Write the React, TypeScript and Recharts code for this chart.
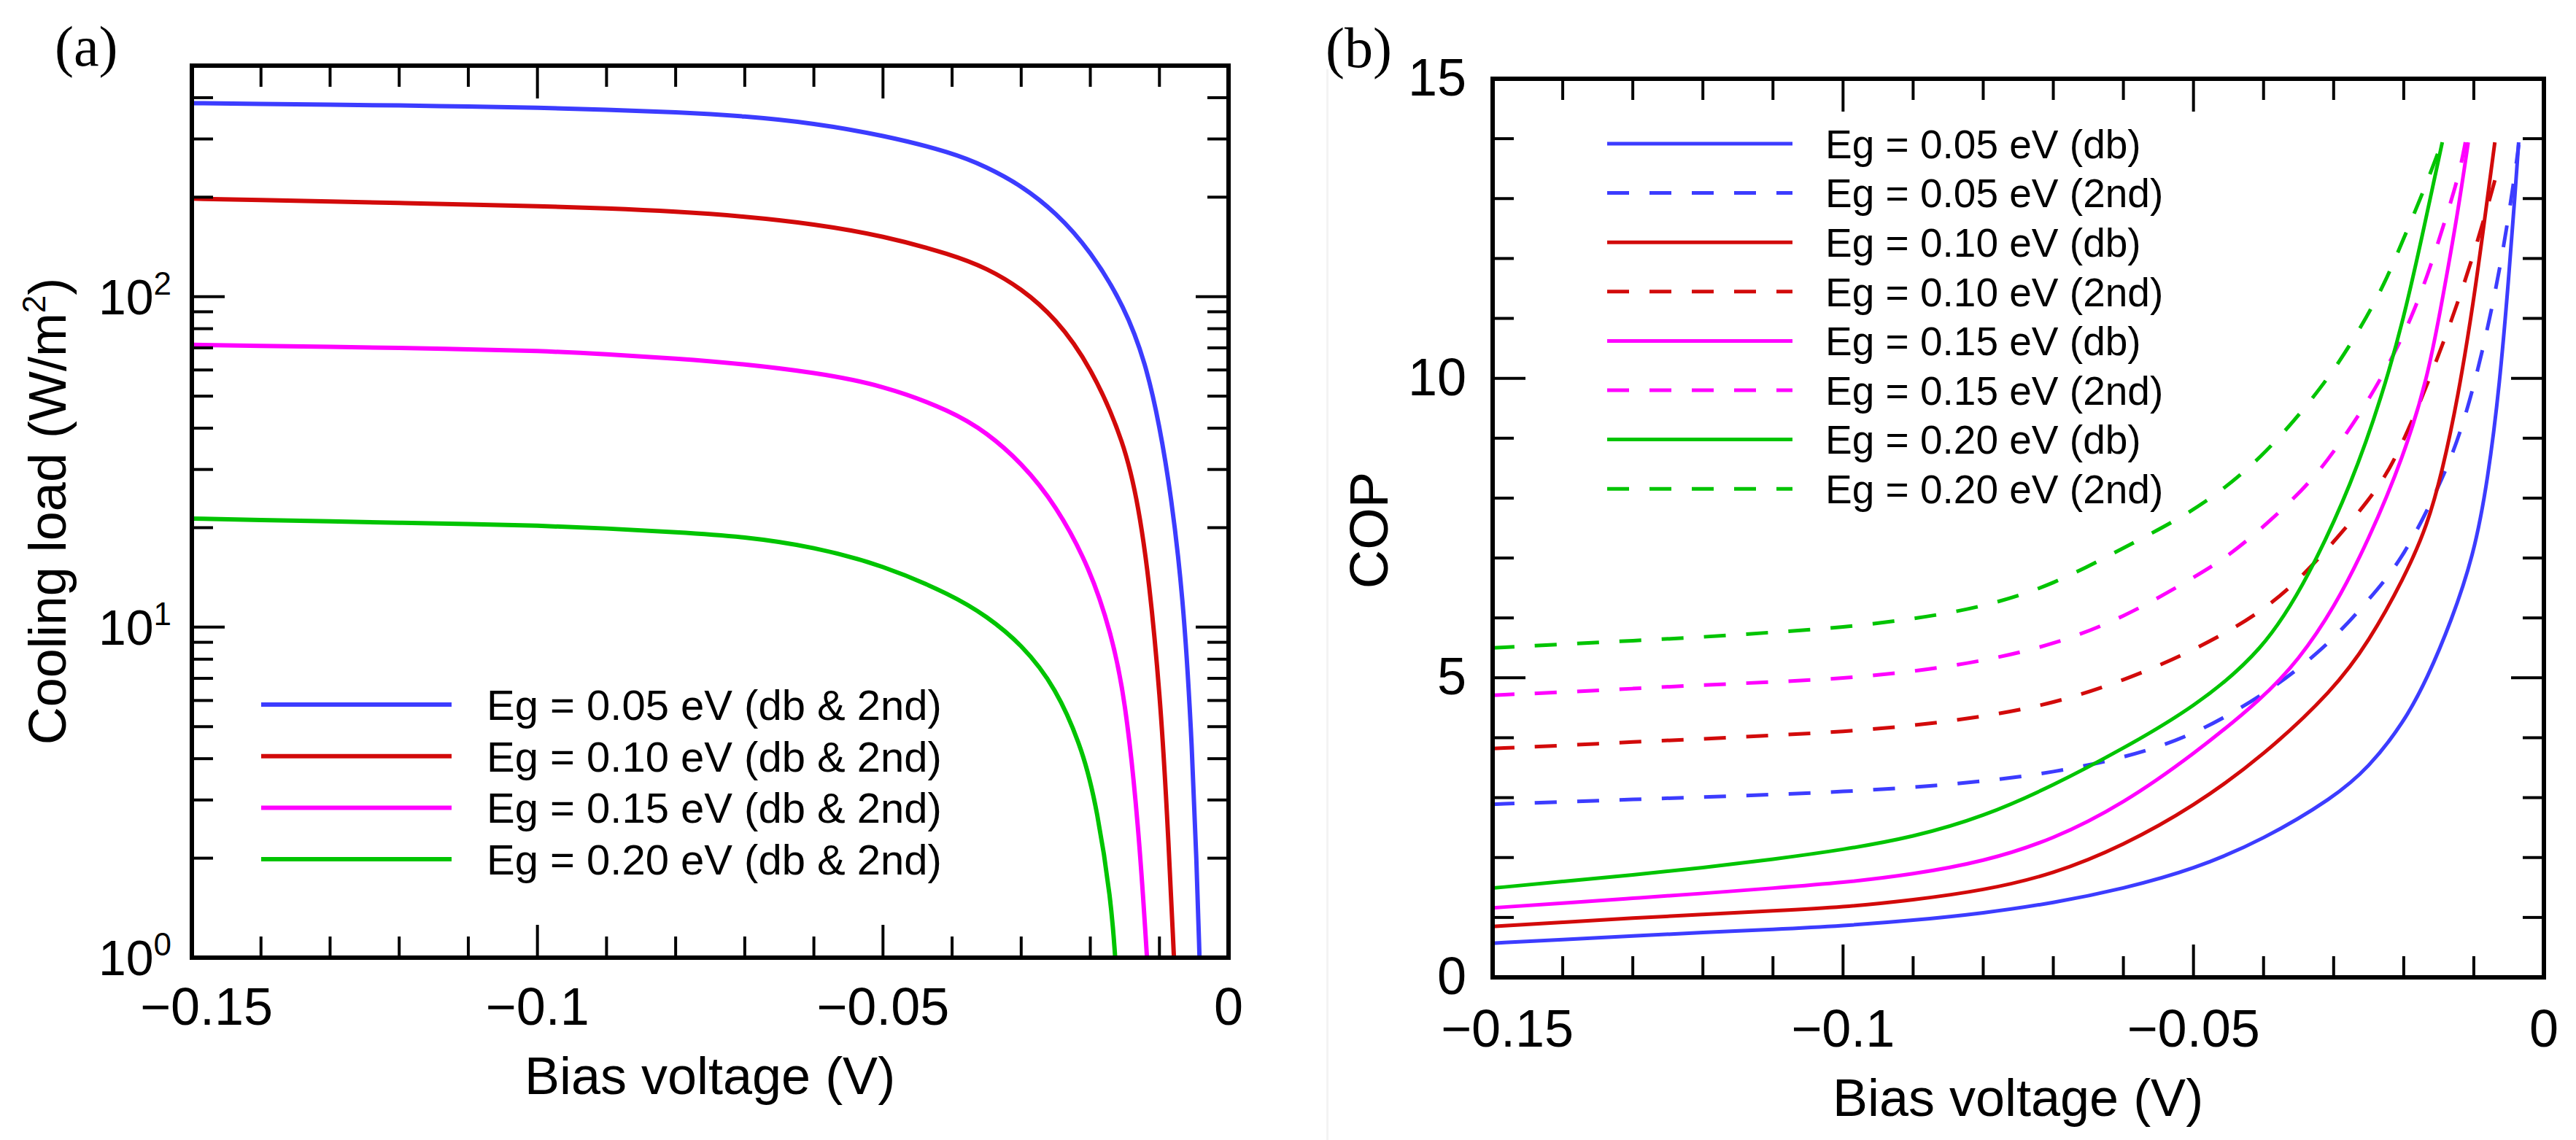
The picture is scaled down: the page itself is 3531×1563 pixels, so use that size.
import React from 'react';
import { LineChart, Line, XAxis, YAxis, Legend, Label } from 'recharts';

const SANS = '"Liberation Sans", Arial, Helvetica, sans-serif';
const SERIF = '"Liberation Serif", "Times New Roman", serif';

const BLUE = '#3c3cff';
const RED = '#d20a0a';
const MAGENTA = '#ff00ff';
const GREEN = '#00c400';

// bias voltage axis (both panels)
const biasTicks = [-0.15, -0.14, -0.13, -0.12, -0.11, -0.1, -0.09, -0.08, -0.07, -0.06, -0.05, -0.04, -0.03, -0.02, -0.01, 0];
const biasMajor = [-0.15, -0.1, -0.05, 0];
const biasLabels = ['\u22120.15', '\u22120.1', '\u22120.05', '0'];

// (a) cooling load axis, log
const loadTicks = [1, 2, 3, 4, 5, 6, 7, 8, 9, 10, 20, 30, 40, 50, 60, 70, 80, 90, 100, 200, 300, 400];
const loadMajor = [1, 10, 100];
const loadExp = ['0', '1', '2'];

// (b) COP axis
const copTicks = [0, 1, 2, 3, 4, 5, 6, 7, 8, 9, 10, 11, 12, 13, 14, 15];
const copMajor = [0, 5, 10, 15];
const copLabels = ['0', '5', '10', '15'];

// (a) cooling load, W/m2 (db and 2nd coincide)
const loadV05 = [-0.15, -0.14, -0.13, -0.12, -0.11, -0.1, -0.09, -0.08, -0.07, -0.06, -0.05, -0.04, -0.035, -0.03, -0.025, -0.02, -0.015, -0.012, -0.01, -0.0083, -0.0066, -0.0054, -0.0046, -0.0042];
const load05 = [385, 383, 381, 379, 376, 373, 368, 362, 352, 335, 308, 273, 247, 217, 180, 138, 93, 63, 41, 25, 12.5, 5, 1.9, 1];
const loadV10 = [-0.15, -0.14, -0.13, -0.12, -0.11, -0.1, -0.09, -0.08, -0.07, -0.06, -0.05, -0.04, -0.035, -0.03, -0.025, -0.02, -0.015, -0.013, -0.0115, -0.0099, -0.0089, -0.0079];
const load10 = [198, 196, 194, 192, 190, 188, 185, 181, 175, 166, 153, 134, 122, 106, 86, 62, 36, 23, 14, 6.2, 2.8, 1];
const loadV15 = [-0.15, -0.14, -0.13, -0.12, -0.11, -0.1, -0.09, -0.08, -0.07, -0.06, -0.05, -0.04, -0.035, -0.03, -0.025, -0.02, -0.017, -0.015, -0.013, -0.0118];
const load15 = [71.5, 71, 70.5, 70, 69.3, 68.6, 67, 65, 62.5, 59, 54, 45, 38.8, 31.5, 23.5, 15, 9.6, 6.2, 2.5, 1];
const loadV20 = [-0.15, -0.14, -0.13, -0.12, -0.11, -0.1, -0.09, -0.08, -0.07, -0.06, -0.05, -0.04, -0.035, -0.03, -0.025, -0.021, -0.019, -0.017, -0.0164];
const load20 = [21.3, 21.1, 20.9, 20.7, 20.5, 20.3, 19.9, 19.4, 18.8, 17.5, 15.4, 12.5, 10.8, 8.9, 6.6, 4.2, 2.8, 1.5, 1];

// (b) COP
const copV05db = [-0.15, -0.14, -0.13, -0.12, -0.11, -0.1, -0.09, -0.08, -0.07, -0.06, -0.05, -0.04, -0.03, -0.025, -0.02, -0.0166, -0.0132, -0.01, -0.008, -0.0063, -0.005, -0.0041, -0.0036];
const cop05db = [0.57, 0.63, 0.69, 0.75, 0.8, 0.86, 0.95, 1.07, 1.24, 1.48, 1.8, 2.3, 3.0, 3.5, 4.25, 5.0, 5.95, 7.05, 8.3, 9.9, 11.7, 13.1, 13.94];
const copV05nd = [-0.15, -0.14, -0.13, -0.12, -0.11, -0.1, -0.09, -0.08, -0.07, -0.06, -0.05, -0.04, -0.035, -0.03, -0.025, -0.02, -0.0145, -0.0115, -0.0084, -0.0058, -0.0039, -0.0036];
const cop05nd = [2.89, 2.93, 2.97, 3.01, 3.05, 3.1, 3.17, 3.27, 3.42, 3.66, 4.03, 4.72, 5.15, 5.65, 6.3, 7.0, 8.3, 9.2, 10.6, 12.1, 13.6, 13.9];
const copV10db = [-0.15, -0.14, -0.13, -0.12, -0.11, -0.1, -0.09, -0.08, -0.07, -0.06, -0.05, -0.04, -0.03, -0.025, -0.02, -0.0166, -0.0145, -0.0123, -0.01, -0.0084, -0.007];
const cop10db = [0.85, 0.92, 0.99, 1.05, 1.11, 1.17, 1.29, 1.45, 1.72, 2.2, 2.85, 3.7, 4.8, 5.6, 6.65, 7.55, 8.45, 9.65, 11.3, 12.7, 13.94];
const copV10nd = [-0.15, -0.14, -0.13, -0.12, -0.11, -0.1, -0.09, -0.08, -0.07, -0.06, -0.05, -0.04, -0.033, -0.0244, -0.021, -0.0158, -0.011, -0.0074, -0.0068];
const cop10nd = [3.82, 3.87, 3.93, 3.98, 4.04, 4.1, 4.2, 4.35, 4.57, 4.95, 5.45, 6.1, 6.85, 8.03, 8.67, 10.12, 11.67, 13.12, 13.4];
const copV15db = [-0.15, -0.14, -0.13, -0.12, -0.11, -0.1, -0.09, -0.08, -0.07, -0.06, -0.05, -0.04, -0.035, -0.03, -0.025, -0.02, -0.0166, -0.0145, -0.0123, -0.0108];
const cop15db = [1.16, 1.24, 1.32, 1.4, 1.49, 1.58, 1.72, 1.93, 2.3, 2.9, 3.72, 4.67, 5.3, 6.15, 7.3, 8.7, 10.0, 11.3, 12.75, 13.94];
const copV15nd = [-0.15, -0.14, -0.13, -0.12, -0.11, -0.1, -0.09, -0.08, -0.07, -0.06, -0.05, -0.045, -0.039, -0.033, -0.0292, -0.0253, -0.0218, -0.0188, -0.0162, -0.014, -0.0121, -0.0112];
const cop15nd = [4.71, 4.76, 4.82, 4.88, 4.93, 4.99, 5.1, 5.28, 5.55, 6.0, 6.67, 7.03, 7.62, 8.3, 8.9, 9.58, 10.3, 11.03, 11.85, 12.67, 13.4, 13.94];
const copV20db = [-0.15, -0.14, -0.13, -0.12, -0.11, -0.1, -0.09, -0.08, -0.07, -0.06, -0.05, -0.04, -0.0335, -0.0274, -0.0231, -0.02, -0.0175, -0.0145];
const cop20db = [1.49, 1.6, 1.71, 1.83, 1.97, 2.13, 2.34, 2.68, 3.2, 3.82, 4.5, 5.45, 6.7, 8.25, 9.7, 11.0, 12.3, 13.94];
const copV20nd = [-0.15, -0.14, -0.13, -0.12, -0.11, -0.1, -0.09, -0.08, -0.07, -0.06, -0.0525, -0.0464, -0.0404, -0.0348, -0.03, -0.0261, -0.0227, -0.0201, -0.0175, -0.0151, -0.0146];
const cop20nd = [5.5, 5.56, 5.62, 5.68, 5.76, 5.84, 5.98, 6.18, 6.55, 7.17, 7.62, 8.08, 8.67, 9.4, 10.12, 10.85, 11.58, 12.31, 13.03, 13.76, 13.94];

const pts = (xs: number[], ys: number[]) => xs.map((v, i) => ({ v, y: ys[i] }));

type Series = { name: string; color: string; dash?: string; data: { v: number; y: number }[] };

const DASH = '30 28';

const loadSeries: Series[] = [
  { name: 'Eg = 0.05 eV (db & 2nd)', color: BLUE, data: pts(loadV05, load05) },
  { name: 'Eg = 0.10 eV (db & 2nd)', color: RED, data: pts(loadV10, load10) },
  { name: 'Eg = 0.15 eV (db & 2nd)', color: MAGENTA, data: pts(loadV15, load15) },
  { name: 'Eg = 0.20 eV (db & 2nd)', color: GREEN, data: pts(loadV20, load20) },
];

const copSeries: Series[] = [
  { name: 'Eg = 0.05 eV (db)', color: BLUE, data: pts(copV05db, cop05db) },
  { name: 'Eg = 0.05 eV (2nd)', color: BLUE, dash: DASH, data: pts(copV05nd, cop05nd) },
  { name: 'Eg = 0.10 eV (db)', color: RED, data: pts(copV10db, cop10db) },
  { name: 'Eg = 0.10 eV (2nd)', color: RED, dash: DASH, data: pts(copV10nd, cop10nd) },
  { name: 'Eg = 0.15 eV (db)', color: MAGENTA, data: pts(copV15db, cop15db) },
  { name: 'Eg = 0.15 eV (2nd)', color: MAGENTA, dash: DASH, data: pts(copV15nd, cop15nd) },
  { name: 'Eg = 0.20 eV (db)', color: GREEN, data: pts(copV20db, cop20db) },
  { name: 'Eg = 0.20 eV (2nd)', color: GREEN, dash: DASH, data: pts(copV20nd, cop20nd) },
];

type Side = 'bottom' | 'top' | 'left' | 'right';

// inward tick marks, longer for majors; labels only on the outer axes
const makeTick =
  (side: Side, majors: number[], label?: (i: number, x: number, y: number) => React.ReactNode) =>
  (props: any) => {
    const { x, y, payload } = props;
    const i = majors.findIndex((m) => Math.abs(m - payload.value) < 1e-9);
    const len = i >= 0 ? 45 : 29;
    const dx = side === 'left' ? len : side === 'right' ? -len : 0;
    const dy = side === 'bottom' ? -len : side === 'top' ? len : 0;
    return (
      <g>
        <line x1={x} y1={y} x2={x + dx} y2={y + dy} stroke="#000" strokeWidth={4} />
        {i >= 0 && label ? label(i, x, y) : null}
      </g>
    );
  };

// first label sits a little to the right, as in the original figure
const biasLabel = (drop: number) => (i: number, x: number, y: number) => (
  <text x={x + (i === 0 ? 20 : 0)} y={y + drop} textAnchor="middle" fontFamily={SANS} fontSize={72} fill="#000">
    {biasLabels[i]}
  </text>
);

const loadLabel = (i: number, x: number, y: number) => (
  <text x={x - 28} y={y + 24} textAnchor="end" fontFamily={SANS} fontSize={68} fill="#000">
    10
    <tspan dy={-27} fontSize={44}>
      {loadExp[i]}
    </tspan>
  </text>
);

const copLabel = (i: number, x: number, y: number) => (
  <text x={x - 36} y={y + 23} textAnchor="end" fontFamily={SANS} fontSize={72} fill="#000">
    {copLabels[i]}
  </text>
);

const axisLine = { stroke: '#000', strokeWidth: 6, strokeLinecap: 'square' as const };

type LegendProps = {
  rows: Series[];
  w: number;
  h: number;
  x1: number;
  x2: number;
  tx: number;
  y0: number;
  step: number;
  fs: number;
  lw: number;
};

const LegendBox = ({ rows, w, h, x1, x2, tx, y0, step, fs, lw }: LegendProps) => (
  <svg width={w} height={h} style={{ display: 'block' }}>
    {rows.map((r, i) => {
      const y = y0 + i * step;
      return (
        <g key={r.name}>
          <line x1={x1} x2={x2} y1={y} y2={y} stroke={r.color} strokeWidth={lw} strokeDasharray={r.dash} />
          <text x={tx} y={y + fs * 0.36} fontFamily={SANS} fontSize={fs} fill="#000">
            {r.name}
          </text>
        </g>
      );
    })}
  </svg>
);

function CoolingLoadChart() {
  const W = 1800;
  const H = 1563;
  return (
    <LineChart width={W} height={H} margin={{ top: 80, right: 106, bottom: 50, left: 163 }}>
      <XAxis
        xAxisId="b"
        dataKey="v"
        type="number"
        domain={[-0.15, 0]}
        ticks={biasTicks}
        interval={0}
        allowDataOverflow
        height={200}
        tickSize={0}
        tickMargin={0}
        tickLine={false}
        axisLine={axisLine}
        tick={makeTick('bottom', biasMajor, biasLabel(92))}
      >
        <Label
          content={() => (
            <text x={973} y={1500} textAnchor="middle" fontFamily={SANS} fontSize={72} fill="#000">
              Bias voltage (V)
            </text>
          )}
        />
      </XAxis>
      <XAxis
        xAxisId="t"
        orientation="top"
        dataKey="v"
        type="number"
        domain={[-0.15, 0]}
        ticks={biasTicks}
        interval={0}
        allowDataOverflow
        height={10}
        tickSize={0}
        tickMargin={0}
        tickLine={false}
        axisLine={axisLine}
        tick={makeTick('top', biasMajor)}
      />
      <YAxis
        yAxisId="l"
        type="number"
        scale="log"
        domain={[1, 500]}
        ticks={loadTicks}
        interval={0}
        allowDataOverflow
        width={100}
        tickSize={0}
        tickMargin={0}
        tickLine={false}
        axisLine={axisLine}
        tick={makeTick('left', loadMajor, loadLabel)}
      >
        <Label
          content={() => (
            <text
              x={90}
              y={701}
              transform="rotate(-90, 90, 701)"
              textAnchor="middle"
              fontFamily={SANS}
              fontSize={72}
              fill="#000"
            >
              Cooling load (W/m
              <tspan dy={-28} fontSize={44}>
                2
              </tspan>
              <tspan dy={28}>)</tspan>
            </text>
          )}
        />
      </YAxis>
      <YAxis
        yAxisId="r"
        orientation="right"
        type="number"
        scale="log"
        domain={[1, 500]}
        ticks={loadTicks}
        interval={0}
        allowDataOverflow
        width={10}
        tickSize={0}
        tickMargin={0}
        tickLine={false}
        axisLine={axisLine}
        tick={makeTick('right', loadMajor)}
      />
      {loadSeries.map((s) => (
        <Line
          key={s.name}
          name={s.name}
          xAxisId="b"
          yAxisId="l"
          data={s.data}
          dataKey="y"
          type="basis"
          stroke={s.color}
          strokeWidth={6}
          dot={false}
          activeDot={false}
          isAnimationActive={false}
        />
      ))}
      <Legend
        layout="vertical"
        align="center"
        verticalAlign="middle"
        wrapperStyle={{ left: 0, top: 0, width: W, height: H, pointerEvents: 'none' }}
        content={() => (
          <LegendBox rows={loadSeries} w={W} h={H} x1={358} x2={619} tx={667} y0={966} step={70.7} fs={58} lw={6} />
        )}
      />
    </LineChart>
  );
}

function CopChart() {
  const W = 1711;
  const H = 1563;
  return (
    <LineChart width={W} height={H} margin={{ top: 98, right: 34, bottom: 23, left: 126 }}>
      <XAxis
        xAxisId="b"
        dataKey="v"
        type="number"
        domain={[-0.15, 0]}
        ticks={biasTicks}
        interval={0}
        allowDataOverflow
        height={200}
        tickSize={0}
        tickMargin={0}
        tickLine={false}
        axisLine={axisLine}
        tick={makeTick('bottom', biasMajor, biasLabel(95))}
      >
        <Label
          content={() => (
            <text x={946} y={1530} textAnchor="middle" fontFamily={SANS} fontSize={72} fill="#000">
              Bias voltage (V)
            </text>
          )}
        />
      </XAxis>
      <XAxis
        xAxisId="t"
        orientation="top"
        dataKey="v"
        type="number"
        domain={[-0.15, 0]}
        ticks={biasTicks}
        interval={0}
        allowDataOverflow
        height={10}
        tickSize={0}
        tickMargin={0}
        tickLine={false}
        axisLine={axisLine}
        tick={makeTick('top', biasMajor)}
      />
      <YAxis
        yAxisId="l"
        type="number"
        domain={[0, 15]}
        ticks={copTicks}
        interval={0}
        allowDataOverflow
        width={100}
        tickSize={0}
        tickMargin={0}
        tickLine={false}
        axisLine={axisLine}
        tick={makeTick('left', copMajor, copLabel)}
      >
        <Label
          content={() => (
            <text
              x={82}
              y={727}
              transform="rotate(-90, 82, 727)"
              textAnchor="middle"
              fontFamily={SANS}
              fontSize={74}
              fill="#000"
            >
              COP
            </text>
          )}
        />
      </YAxis>
      <YAxis
        yAxisId="r"
        orientation="right"
        type="number"
        domain={[0, 15]}
        ticks={copTicks}
        interval={0}
        allowDataOverflow
        width={10}
        tickSize={0}
        tickMargin={0}
        tickLine={false}
        axisLine={axisLine}
        tick={makeTick('right', copMajor)}
      />
      {copSeries.map((s) => (
        <Line
          key={s.name}
          name={s.name}
          xAxisId="b"
          yAxisId="l"
          data={s.data}
          dataKey="y"
          type="basis"
          stroke={s.color}
          strokeWidth={5}
          strokeDasharray={s.dash}
          dot={false}
          activeDot={false}
          isAnimationActive={false}
        />
      ))}
      <Legend
        layout="vertical"
        align="center"
        verticalAlign="middle"
        wrapperStyle={{ left: 0, top: 0, width: W, height: H, pointerEvents: 'none' }}
        content={() => (
          <LegendBox rows={copSeries} w={W} h={H} x1={383} x2={637} tx={682} y0={197} step={67.6} fs={55} lw={5} />
        )}
      />
    </LineChart>
  );
}

export default function App() {
  return (
    <div style={{ position: 'absolute', left: 0, top: 0, width: 3531, height: 1563, background: '#fff', overflow: 'hidden' }}>
      <div style={{ position: 'absolute', left: 0, top: 0 }}>
        <CoolingLoadChart />
      </div>
      <div style={{ position: 'absolute', left: 1818, top: 95, width: 3, height: 1468, background: '#f3f3f3' }} />
      <div style={{ position: 'absolute', left: 1820, top: 0 }}>
        <CopChart />
      </div>
      <svg width={3531} height={1563} style={{ position: 'absolute', left: 0, top: 0, pointerEvents: 'none' }}>
        <text x={75} y={90} fontFamily={SERIF} fontSize={78} fill="#000">
          (a)
        </text>
        <text x={1817} y={92} fontFamily={SERIF} fontSize={78} fill="#000">
          (b)
        </text>
      </svg>
    </div>
  );
}
